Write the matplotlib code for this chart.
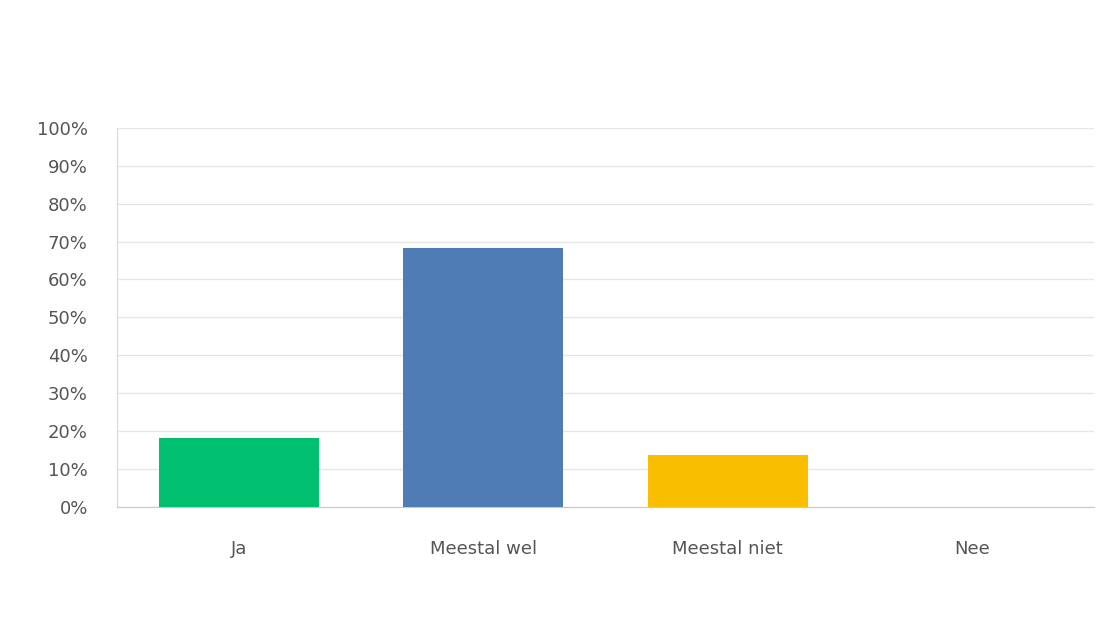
import matplotlib
matplotlib.use("Agg")
import matplotlib.pyplot as plt

categories = ["Ja", "Meestal wel", "Meestal niet", "Nee"]
values = [18.18, 68.18, 13.64, 0.0]
colors = ["#00BF6F", "#507CB6", "#F9BE00", "#9D8E80"]
yticks = list(range(0, 101, 10))

fig = plt.figure(figsize=(11.04, 6.2), dpi=100)
ax = fig.add_axes([0.106, 0.182, 0.885, 0.612])
ax.bar(range(len(categories)), values, width=0.655, color=colors, zorder=3)
ax.set_xlim(-0.5, 3.5)
ax.set_ylim(0, 100)
ax.set_yticks(yticks)
ax.set_yticklabels([f"{t}%" for t in yticks])
ax.set_xticks(range(len(categories)))
ax.set_xticklabels(categories)
ax.grid(axis="y", color="#e6e6e6", linewidth=1, zorder=0)
for s in ["top", "right"]:
    ax.spines[s].set_visible(False)
ax.spines["left"].set_color("#d9d9d9")
ax.spines["bottom"].set_color("#c8c8c8")
ax.tick_params(axis="both", length=0, labelsize=13, colors="#555555")
ax.tick_params(axis="x", pad=24)
ax.tick_params(axis="y", pad=21)
fig.savefig("out.png", dpi=100, facecolor="white")
